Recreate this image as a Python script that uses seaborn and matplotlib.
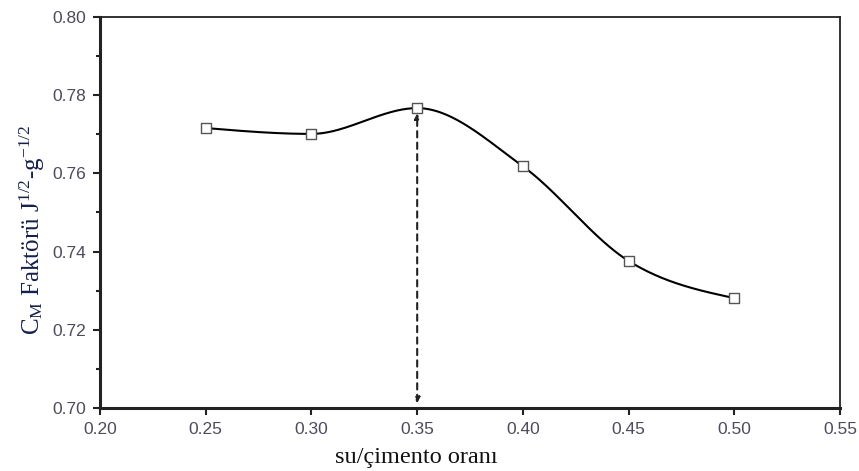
import matplotlib
matplotlib.use('Agg')
import matplotlib.pyplot as plt
from matplotlib.ticker import MultipleLocator, FormatStrFormatter
import numpy as np
import seaborn as sns

# data
wc_ratio = [0.25, 0.30, 0.35, 0.40, 0.45, 0.50]
cm_factor = [0.7716, 0.7701, 0.7767, 0.7618, 0.7376, 0.7281]
peak_x = 0.35
peak_y = 0.7767


def smooth_curve(x, y, n=300):
    # cubic hermite through the points (flat at local extrema), only for drawing the line
    x = np.asarray(x, float)
    y = np.asarray(y, float)
    h = np.diff(x)
    d = np.diff(y) / h
    m = np.zeros_like(y)
    for i in range(1, len(x) - 1):
        if d[i - 1] * d[i] > 0:
            m[i] = (y[i + 1] - y[i - 1]) / (x[i + 1] - x[i - 1])
    m[0] = (3 * d[0] - m[1]) / 2
    m[-1] = (3 * d[-1] - m[-2]) / 2
    xs = np.linspace(x[0], x[-1], n)
    idx = np.clip(np.searchsorted(x, xs) - 1, 0, len(x) - 2)
    t = (xs - x[idx]) / h[idx]
    h00 = 2 * t**3 - 3 * t**2 + 1
    h10 = t**3 - 2 * t**2 + t
    h01 = -2 * t**3 + 3 * t**2
    h11 = t**3 - t**2
    ys = h00 * y[idx] + h10 * h[idx] * m[idx] + h01 * y[idx + 1] + h11 * h[idx] * m[idx + 1]
    return xs, ys


sns.set_style('white')
plt.rcParams['font.family'] = ['Liberation Sans', 'DejaVu Sans']
plt.rcParams['mathtext.fontset'] = 'custom'
plt.rcParams['mathtext.rm'] = 'Liberation Serif'
plt.rcParams['mathtext.it'] = 'Liberation Serif:italic'

fig = plt.figure(figsize=(8.59, 4.71), dpi=100)
ax = fig.add_axes([0.1164, 0.1338, 0.8616, 0.8301])

xs, ys = smooth_curve(wc_ratio, cm_factor)
sns.lineplot(x=xs, y=ys, ax=ax, color='black', linewidth=1.5, zorder=2)
sns.scatterplot(x=wc_ratio, y=cm_factor, ax=ax, marker='s', s=60,
                facecolor='white', edgecolor='#555555', linewidth=1.0, zorder=3)

ax.annotate('', xy=(peak_x, peak_y - 0.0013), xytext=(peak_x, 0.7012),
            arrowprops=dict(arrowstyle='<|-|>', linestyle=(0, (3, 2.5)),
                            color='#222222', lw=1.5, mutation_scale=8,
                            shrinkA=0, shrinkB=0))

ax.set_xlim(0.20, 0.55)
ax.set_ylim(0.70, 0.80)
ax.xaxis.set_major_locator(MultipleLocator(0.05))
ax.yaxis.set_major_locator(MultipleLocator(0.02))
ax.yaxis.set_minor_locator(MultipleLocator(0.01))
ax.xaxis.set_major_formatter(FormatStrFormatter('%.2f'))
ax.yaxis.set_major_formatter(FormatStrFormatter('%.2f'))
ax.tick_params(axis='both', which='major', direction='out', length=5, width=1.5,
               labelsize=12.5, colors='#222222', labelcolor='#4c4c5c',
               bottom=True, left=True, top=False, right=False, pad=5)
ax.tick_params(axis='y', which='minor', direction='out', length=3, width=1.5,
               left=True, colors='#222222')

for side in ['left', 'bottom']:
    ax.spines[side].set_linewidth(2.2)
    ax.spines[side].set_color('#222222')
for side in ['top', 'right']:
    ax.spines[side].set_linewidth(1.3)
    ax.spines[side].set_color('#222222')

ax.set_xlabel('su/çimento oranı', family='Liberation Serif', fontsize=17.5,
              color='#111111')
ax.set_ylabel(r'C$_{\rm M}$ Faktörü J$^{\mathit{1/2}}$-g$^{\mathit{-1/2}}$',
              family='Liberation Serif', fontsize=18, color='#14204a')
ax.xaxis.set_label_coords(0.427, -0.1)
ax.yaxis.set_label_coords(-0.072, 0.455)

fig.savefig('out.png', dpi=100)
